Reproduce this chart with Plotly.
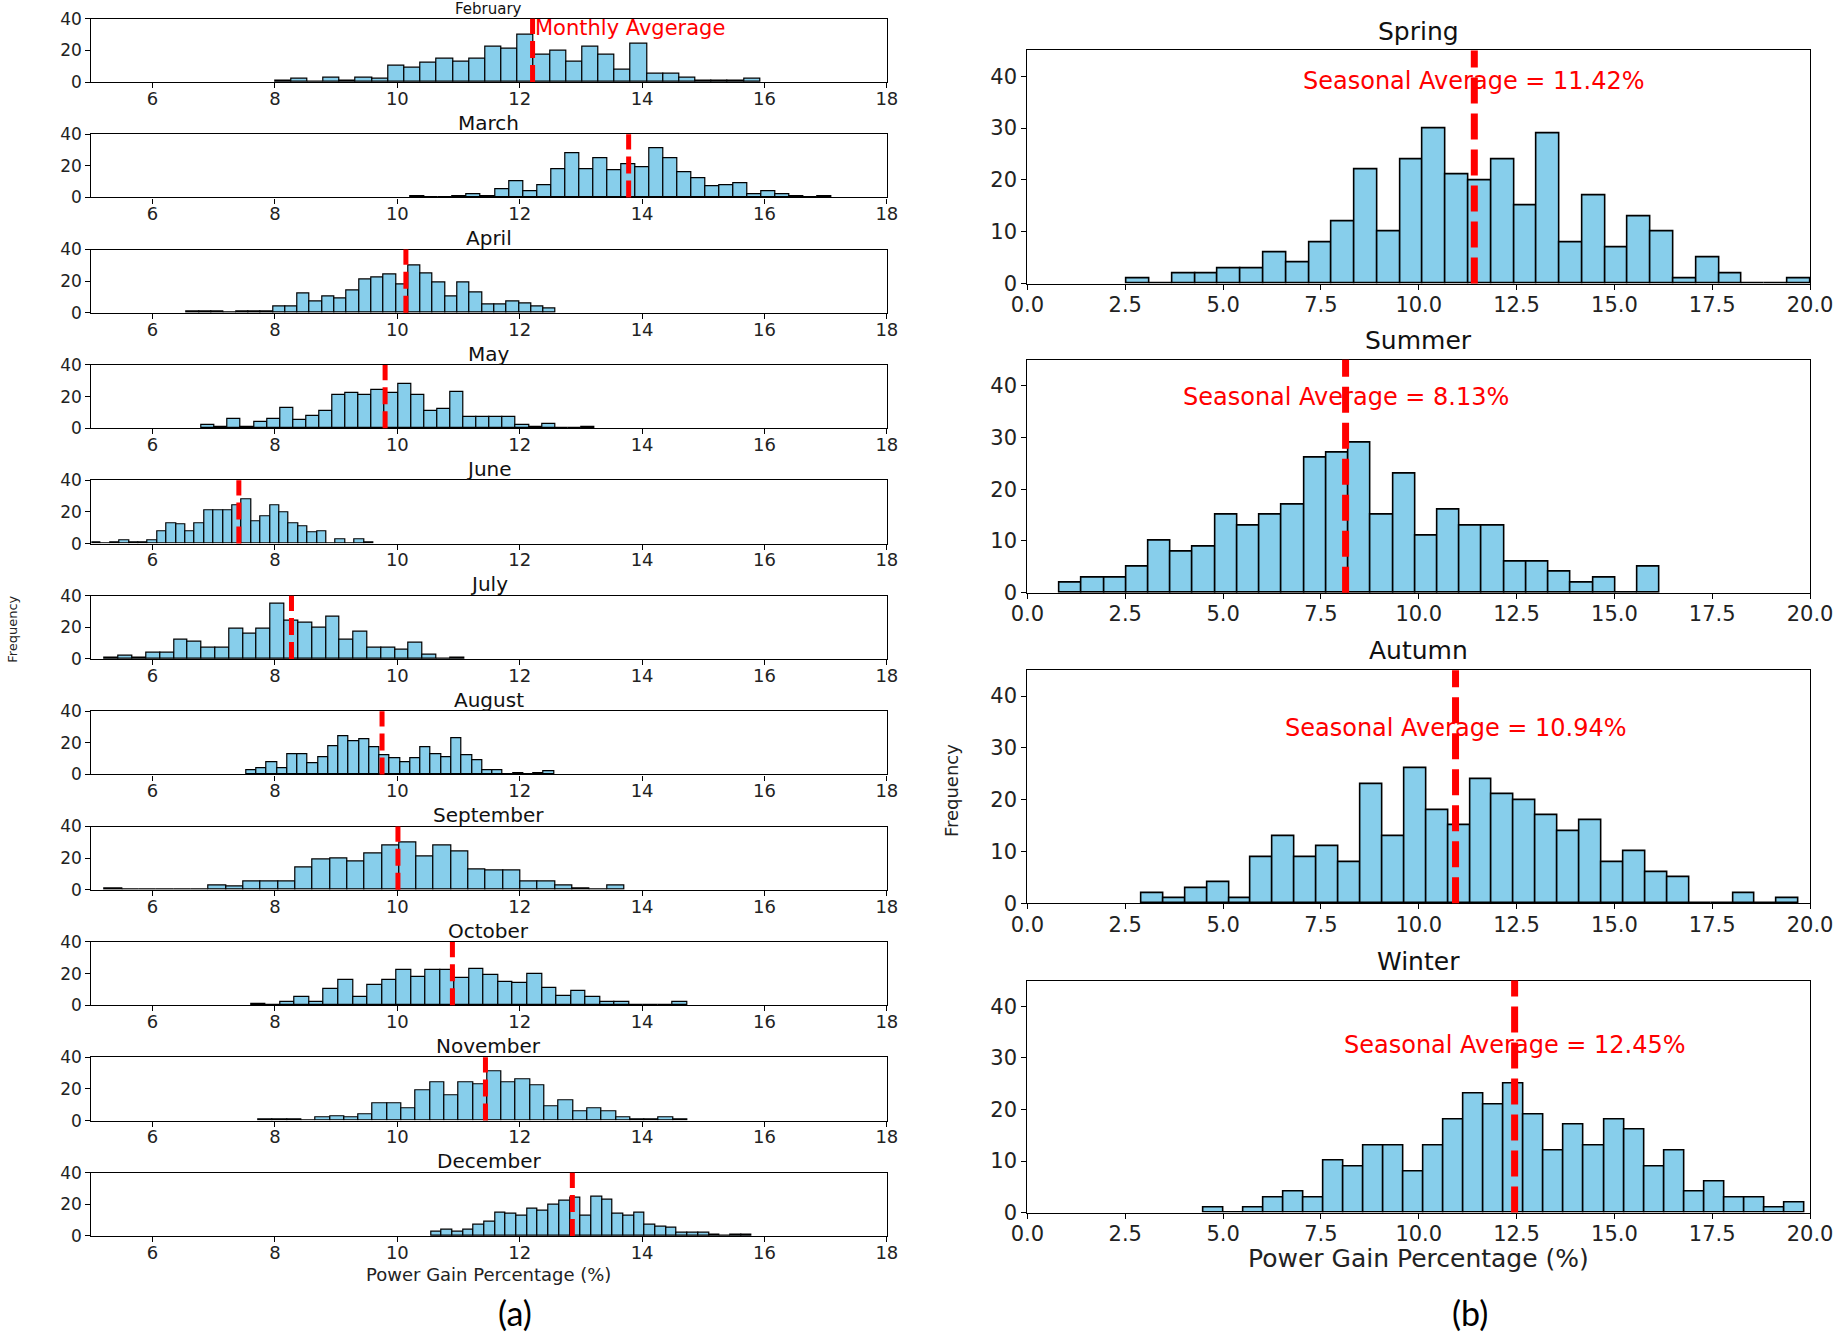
import numpy as np
import plotly.graph_objects as go

# ---------------- data ----------------
month_names = ["February", "March", "April", "May", "June", "July",
               "August", "September", "October", "November", "December"]
month_lo = [8.00, 10.22, 6.56, 6.80, 5.00, 5.22, 7.53, 5.22, 7.61, 7.73, 10.55]
month_hi = [15.93, 17.09, 12.59, 13.22, 9.61, 11.09, 12.56, 13.71, 14.74, 14.74, 15.79]
month_mean = [12.21, 13.78, 10.14, 9.80, 7.41, 8.27, 9.75, 10.01, 10.90, 11.44, 12.86]

feb_counts = [1, 2, 0, 3, 1, 3, 2, 10, 9, 12, 15, 13, 15, 22, 21, 30, 17, 20, 13, 22, 17, 8, 24, 5, 5, 3, 1, 1, 1, 2]
mar_counts = [1, 0, 0, 1, 2, 1, 5, 10, 4, 8, 18, 28, 18, 25, 17, 21, 19, 31, 25, 16, 12, 7, 8, 9, 2, 4, 2, 1, 0, 1]
apr_counts = [1, 1, 1, 0, 1, 1, 1, 4, 4, 12, 7, 10, 9, 14, 21, 22, 24, 18, 30, 25, 19, 10, 19, 13, 5, 5, 7, 6, 4, 3]
may_counts = [2, 1, 6, 1, 4, 6, 13, 5, 8, 11, 21, 22, 21, 24, 22, 28, 21, 11, 12, 23, 7, 7, 7, 7, 2, 1, 3, 0, 0, 1]
jun_counts = [1, 0, 1, 2, 1, 1, 2, 8, 13, 12, 8, 13, 21, 21, 21, 24, 28, 14, 17, 24, 20, 13, 11, 7, 8, 0, 3, 0, 3, 1]
jul_counts = [1, 2, 1, 4, 4, 12, 11, 7, 7, 19, 16, 19, 35, 24, 23, 20, 27, 12, 17, 7, 7, 6, 10, 3, 0, 1]
aug_counts = [3, 4, 8, 4, 13, 13, 7, 11, 18, 24, 21, 22, 17, 12, 10, 8, 10, 17, 13, 11, 23, 12, 9, 3, 3, 0, 1, 0, 1, 2]
sep_counts = [1, 0, 0, 0, 0, 0, 3, 2, 5, 5, 5, 14, 19, 20, 18, 23, 28, 30, 21, 28, 24, 13, 12, 12, 5, 5, 3, 1, 0, 3]
oct_counts = [1, 0, 2, 5, 2, 10, 16, 5, 13, 16, 22, 18, 22, 22, 17, 23, 19, 15, 14, 20, 11, 6, 9, 5, 2, 2, 0, 0, 0, 2]
nov_counts = [1, 1, 1, 0, 2, 3, 2, 4, 11, 11, 8, 19, 24, 16, 24, 23, 31, 24, 26, 22, 9, 13, 6, 8, 6, 2, 1, 1, 2, 1]
dec_counts = [3, 4, 3, 4, 7, 9, 15, 14, 13, 17, 16, 20, 22, 24, 13, 25, 23, 14, 13, 15, 7, 6, 5, 2, 2, 2, 1, 0, 1, 1]
month_counts = [feb_counts, mar_counts, apr_counts, may_counts, jun_counts, jul_counts,
                aug_counts, sep_counts, oct_counts, nov_counts, dec_counts]

season_names = ["Spring", "Summer", "Autumn", "Winter"]
season_lo = [2.54, 0.82, 2.91, 4.50]
season_hi = [20.00, 16.16, 19.71, 19.85]
season_mean = [11.42, 8.13, 10.94, 12.45]
spring_counts = [1, 0, 2, 2, 3, 3, 6, 4, 8, 12, 22, 10, 24, 30, 21, 20, 24, 15, 29, 8, 17, 7, 13, 10, 1, 5, 2, 0, 0, 1]
summer_counts = [2, 3, 3, 5, 10, 8, 9, 15, 13, 15, 17, 26, 27, 29, 15, 23, 11, 16, 13, 13, 6, 6, 4, 2, 3, 0, 5]
autumn_counts = [2, 1, 3, 4, 1, 9, 13, 9, 11, 8, 23, 13, 26, 18, 15, 24, 21, 20, 17, 14, 16, 8, 10, 6, 5, 0, 0, 2, 0, 1]
winter_counts = [1, 0, 1, 3, 4, 3, 10, 9, 13, 13, 8, 13, 18, 23, 21, 25, 19, 12, 17, 13, 18, 16, 9, 12, 4, 6, 3, 3, 1, 2]
season_counts = [spring_counts, summer_counts, autumn_counts, winter_counts]

month_xticks = [6, 8, 10, 12, 14, 16, 18]
month_yticks = [0, 20, 40]
season_xticks = [0.0, 2.5, 5.0, 7.5, 10.0, 12.5, 15.0, 17.5, 20.0]
season_yticks = [0, 10, 20, 30, 40]

# ---------------- layout helpers ----------------
W, H = 1837, 1334
SCALE = W / 1568.0              # reference measured at 1568 px wide
BAR_COLOR = "#87CEEB"
FONT = "DejaVu Sans"


def px(x):
    return x * SCALE / W


def py(y):
    return 1 - y * SCALE / H


fig = go.Figure()
layout = dict(
    width=W, height=H, margin=dict(l=0, r=0, t=0, b=0, pad=0),
    paper_bgcolor="white", plot_bgcolor="white", showlegend=False,
    font=dict(family=FONT, color="black"),
)
annotations = []
shapes = []


def axis_style(tickvals, rng, size, standoff, ticktext=None):
    d = dict(range=rng, tickvals=tickvals, showgrid=False, zeroline=False,
             showline=True, mirror=True, linecolor="black", linewidth=1.3,
             ticks="outside", ticklen=5, tickwidth=1.2, tickcolor="black",
             automargin=False, ticklabelstandoff=standoff, ticklabeloverflow="allow",
             tickfont=dict(family=FONT, size=size, color="#222"), fixedrange=True)
    if ticktext is not None:
        d["ticktext"] = ticktext
    return d


def add_hist(idx, lo, hi, counts, mean, line_w, dash, outline):
    n = len(counts)
    edges = np.linspace(lo, hi, n + 1)
    centers = (edges[:-1] + edges[1:]) / 2
    width = edges[1] - edges[0]
    xa = "x" if idx == 1 else f"x{idx}"
    ya = "y" if idx == 1 else f"y{idx}"
    fig.add_trace(go.Bar(
        x=centers, y=counts, width=width, xaxis=xa, yaxis=ya,
        marker=dict(color=BAR_COLOR, line=dict(color="black", width=outline)),
        hoverinfo="x+y",
    ))
    shapes.append(dict(type="line", xref=xa, yref=f"{ya} domain",
                       x0=mean, x1=mean, y0=0, y1=1,
                       line=dict(color="red", width=line_w, dash=dash)))
    return xa, ya


# ---- left column: monthly histograms ----
for i, name in enumerate(month_names):
    idx = i + 1
    top = 16 + 98.5 * i
    bot = top + 54
    xa, ya = add_hist(idx, month_lo[i], month_hi[i], month_counts[i], month_mean[i],
                      5, "17px,7px", 1.2)
    kx = "xaxis" if idx == 1 else f"xaxis{idx}"
    ky = "yaxis" if idx == 1 else f"yaxis{idx}"
    layout[kx] = dict(domain=[px(78), px(757)], anchor=ya,
                      **axis_style(month_xticks, [5, 18], 18, -5))
    layout[ky] = dict(domain=[py(bot), py(top)], anchor=xa,
                      **axis_style(month_yticks, [0, 40], 17, 0))
    if i == 0:
        annotations.append(dict(text=name, xref="paper", yref="paper",
                                x=px(417), y=py(top), xanchor="center", yanchor="bottom",
                                borderpad=0, showarrow=False,
                                font=dict(family=FONT, size=15, color="#111")))
        annotations.append(dict(text="Monthly Avgerage", xref=xa, yref=ya,
                                x=month_mean[i], y=34, xanchor="left", yanchor="middle",
                                showarrow=False, font=dict(family=FONT, size=21, color="red")))
    else:
        annotations.append(dict(text=name, xref="paper", yref="paper",
                                x=px(417), y=py(top) - 0.002, xanchor="center", yanchor="bottom",
                                showarrow=False, font=dict(family=FONT, size=20, color="#111")))

# ---- right column: seasonal histograms ----
season_box = [(43, 242), (307, 506), (572, 771), (837, 1035)]
for j, name in enumerate(season_names):
    idx = len(month_names) + j + 1
    top, bot = season_box[j]
    xa, ya = add_hist(idx, season_lo[j], season_hi[j], season_counts[j], season_mean[j],
                      7, "26px,10px", 1.6)
    layout[f"xaxis{idx}"] = dict(domain=[px(877), px(1545)], anchor=ya,
                                 **axis_style(season_xticks, [0, 20], 21, -3,
                                              [f"{v:.1f}" for v in season_xticks]))
    layout[f"yaxis{idx}"] = dict(domain=[py(bot), py(top)], anchor=xa,
                                 **axis_style(season_yticks, [0, 45], 21, 0))
    annotations.append(dict(text=name, xref="paper", yref="paper",
                            x=px(1211), y=py(top) + 0.002, xanchor="center", yanchor="bottom",
                            showarrow=False, font=dict(family=FONT, size=25, color="#111")))
    annotations.append(dict(text=f"Seasonal Average = {season_mean[j]:.2f}%",
                            xref=xa, yref=ya, x=season_mean[j],
                            y=1.3 * max(season_counts[j]), xanchor="center", yanchor="middle",
                            showarrow=False, font=dict(family=FONT, size=24, color="red")))

# ---- axis labels and panel letters ----
annotations += [
    dict(text="Power Gain Percentage (%)", xref="paper", yref="paper", x=px(417), y=py(1088),
         xanchor="center", yanchor="middle", showarrow=False,
         font=dict(family=FONT, size=18, color="#222")),
    dict(text="Frequency", xref="paper", yref="paper", x=px(10), y=py(537), textangle=-90,
         xanchor="center", yanchor="middle", showarrow=False,
         font=dict(family=FONT, size=13, color="#222")),
    dict(text="Power Gain Percentage (%)", xref="paper", yref="paper", x=px(1211), y=py(1074),
         xanchor="center", yanchor="middle", showarrow=False,
         font=dict(family=FONT, size=25, color="#222")),
    dict(text="Frequency", xref="paper", yref="paper", x=px(812), y=py(675), textangle=-90,
         xanchor="center", yanchor="middle", showarrow=False,
         font=dict(family=FONT, size=18, color="#222")),
    dict(text="(a)", xref="paper", yref="paper", x=px(440), y=py(1120),
         xanchor="center", yanchor="middle", showarrow=False,
         font=dict(family="Lato", size=34, color="black")),
    dict(text="(b)", xref="paper", yref="paper", x=px(1255), y=py(1120),
         xanchor="center", yanchor="middle", showarrow=False,
         font=dict(family="Lato", size=34, color="black")),
]

layout["annotations"] = annotations
layout["shapes"] = shapes
layout["bargap"] = 0
fig.update_layout(**layout)

fig.write_html(
    "out.html",
    config={"displayModeBar": False},
    post_script="document.body.style.margin='0';document.body.style.overflow='hidden';",
)
